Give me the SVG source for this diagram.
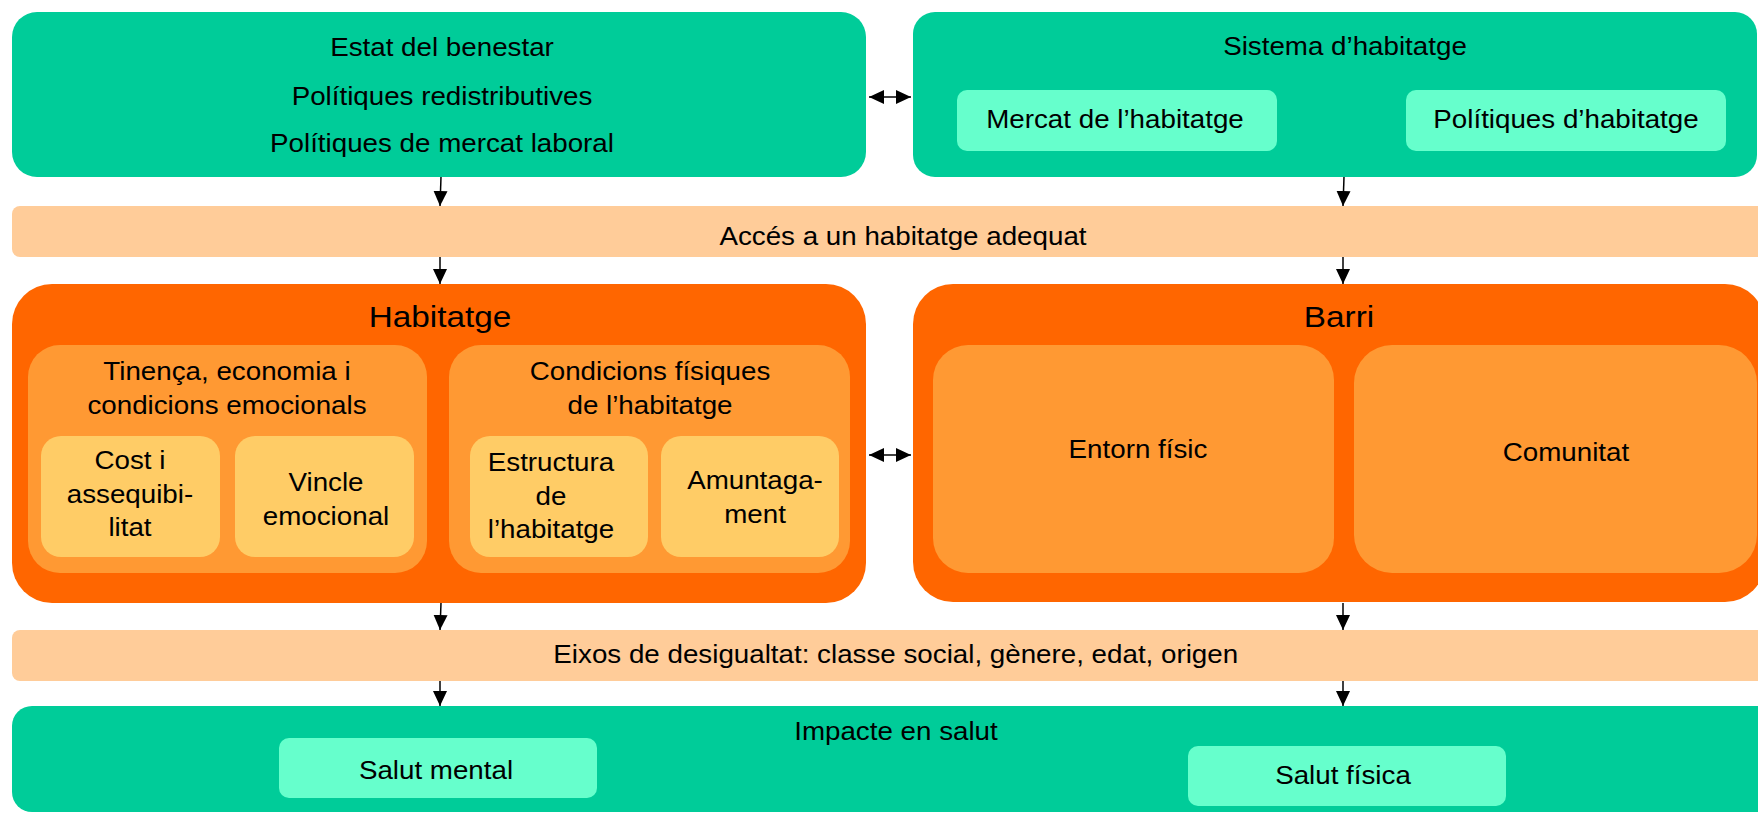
<svg xmlns="http://www.w3.org/2000/svg" width="1758" height="813" viewBox="0 0 1758 813">
<style>
.green{fill:#00CC99}
.mint{fill:#66FFCC}
.band{fill:#FFCC99}
.dark{fill:#FF6600}
.mid{fill:#FF9933}
.yel{fill:#FFCC66}
text{font-family:"Liberation Sans",Arial,sans-serif;font-size:25px;fill:#000;text-anchor:middle}
text.t{font-size:30px}
.conn line{stroke:#000;stroke-width:1.5;fill:none}
</style>
<defs>
<marker id="ah" markerUnits="userSpaceOnUse" markerWidth="16" markerHeight="16" viewBox="0 0 16 16" refX="15" refY="8" orient="auto-start-reverse">
<path d="M0,1 L15,8 L0,15 Z" fill="#000"/>
</marker>
</defs>
<rect width="1758" height="813" fill="#fff"/>
<g id="estat"><rect class="green" x="12" y="12" width="854" height="165" rx="25"/></g>
<g id="sistema"><rect class="green" x="913" y="12" width="844" height="165" rx="22"/></g>
<g id="mercat"><rect class="mint" x="957" y="90" width="320" height="61" rx="10"/></g>
<g id="politiques"><rect class="mint" x="1406" y="90" width="320" height="61" rx="10"/></g>
<g id="acces"><rect class="band" x="12" y="206" width="1760" height="51" rx="8"/></g>
<g id="habitatge"><rect class="dark" x="12" y="284" width="854" height="319" rx="40"/></g>
<g id="tinenca"><rect class="mid" x="28" y="345" width="399" height="228" rx="32"/></g>
<g id="condicions"><rect class="mid" x="449" y="345" width="401" height="228" rx="32"/></g>
<g id="cost"><rect class="yel" x="41" y="436" width="179" height="121" rx="20"/></g>
<g id="vincle"><rect class="yel" x="235" y="436" width="179" height="121" rx="20"/></g>
<g id="estructura"><rect class="yel" x="470" y="436" width="178" height="121" rx="20"/></g>
<g id="amuntagament"><rect class="yel" x="661" y="436" width="178" height="121" rx="20"/></g>
<g id="barri"><rect class="dark" x="913" y="284" width="852" height="318" rx="40"/></g>
<g id="entorn"><rect class="mid" x="933" y="345" width="401" height="228" rx="35"/></g>
<g id="comunitat"><rect class="mid" x="1354" y="345" width="403" height="228" rx="38"/></g>
<g id="eixos"><rect class="band" x="12" y="630" width="1760" height="51" rx="8"/></g>
<g id="impacte"><rect class="green" x="12" y="706" width="1770" height="106" rx="20"/></g>
<g id="mental"><rect class="mint" x="279" y="738" width="318" height="60" rx="10"/></g>
<g id="fisica"><rect class="mint" x="1188" y="746" width="318" height="60" rx="10"/></g>
<g id="connectors" class="conn">
<line x1="441" y1="177" x2="440" y2="206" marker-end="url(#ah)"/>
<line x1="1344" y1="177" x2="1343" y2="206" marker-end="url(#ah)"/>
<line x1="440" y1="257" x2="440" y2="284" marker-end="url(#ah)"/>
<line x1="1343" y1="257" x2="1343" y2="284" marker-end="url(#ah)"/>
<line x1="441" y1="603" x2="440" y2="630" marker-end="url(#ah)"/>
<line x1="1343" y1="603" x2="1343" y2="630" marker-end="url(#ah)"/>
<line x1="440" y1="681" x2="440" y2="706" marker-end="url(#ah)"/>
<line x1="1343" y1="681" x2="1343" y2="706" marker-end="url(#ah)"/>
<line x1="869" y1="97" x2="911" y2="97" marker-start="url(#ah)" marker-end="url(#ah)"/>
<line x1="869" y1="455" x2="911" y2="455" marker-start="url(#ah)" marker-end="url(#ah)"/>
</g>
<g id="labels" transform="scale(1.11 1)">
<text x="398.2" y="56">Estat del benestar</text>
<text x="398.2" y="105">Polítiques redistributives</text>
<text x="398.2" y="152">Polítiques de mercat laboral</text>
<text x="1211.7" y="55">Sistema d’habitatge</text>
<text x="1004.5" y="128">Mercat de l’habitatge</text>
<text x="1410.8" y="128">Polítiques d’habitatge</text>
<text x="813.5" y="245">Accés a un habitatge adequat</text>
<text class="t" x="396.4" y="327">Habitatge</text>
<text class="t" x="1206.3" y="327">Barri</text>
<text x="204.5" y="380">Tinença, economia i</text>
<text x="204.5" y="414">condicions emocionals</text>
<text x="585.6" y="380">Condicions físiques</text>
<text x="585.6" y="414">de l’habitatge</text>
<text x="117.1" y="469">Cost i</text>
<text x="117.1" y="503">assequibi-</text>
<text x="117.1" y="536">litat</text>
<text x="293.7" y="491">Vincle</text>
<text x="293.7" y="525">emocional</text>
<text x="496.4" y="471">Estructura</text>
<text x="496.4" y="505">de</text>
<text x="496.4" y="538">l’habitatge</text>
<text x="680.2" y="489">Amuntaga-</text>
<text x="680.2" y="523">ment</text>
<text x="1025.2" y="458">Entorn físic</text>
<text x="1410.8" y="461">Comunitat</text>
<text x="807" y="663">Eixos de desigualtat: classe social, gènere, edat, origen</text>
<text x="807.2" y="740">Impacte en salut</text>
<text x="392.8" y="779">Salut mental</text>
<text x="1209.9" y="784">Salut física</text>
</g>
</svg>
